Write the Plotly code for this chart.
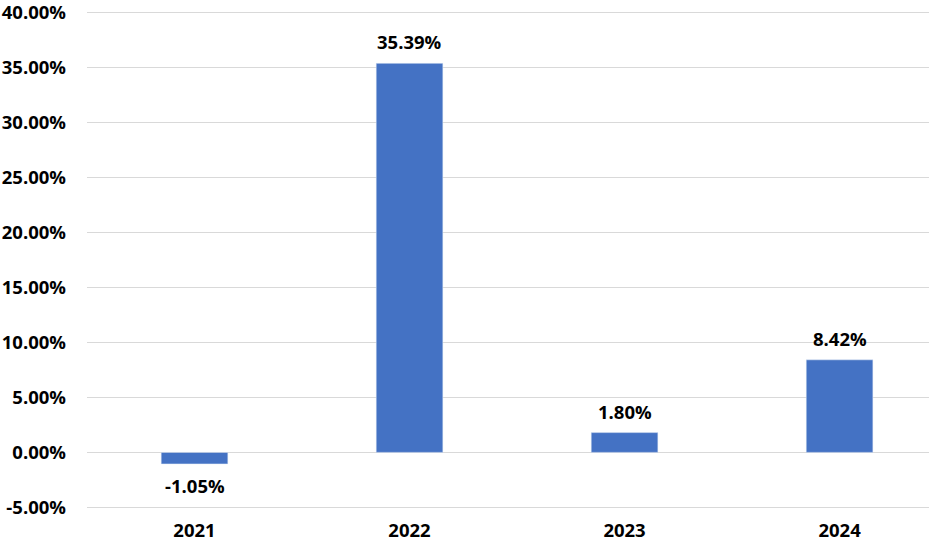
import plotly.graph_objects as go

years = ["2021", "2022", "2023", "2024"]
returns = [-1.05, 35.39, 1.80, 8.42]
labels = ["-1.05%", "35.39%", "1.80%", "8.42%"]
y_ticks = [-5, 0, 5, 10, 15, 20, 25, 30, 35, 40]
y_tick_text = ["-5.00%", "0.00%", "5.00%", "10.00%", "15.00%", "20.00%", "25.00%", "30.00%", "35.00%", "40.00%"]

FONT = "Open Sans"
FS = 18.5

fig = go.Figure()
fig.add_trace(go.Bar(
    x=years, y=returns, marker_color="#4472C4", width=0.31,
    hoverinfo="skip",
))

for i, (v, t) in enumerate(zip(returns, labels)):
    fig.add_annotation(
        x=i, y=v, xref="x", yref="y", text=t, showarrow=False,
        yanchor="bottom" if v >= 0 else "top",
        yshift=7 if v >= 0 else -7,
        font=dict(family=FONT, size=FS, color="#000000", weight="bold"),
    )

fig.update_layout(
    width=929, height=548,
    margin=dict(l=87, r=0, t=11, b=39),
    paper_bgcolor="white", plot_bgcolor="white",
    showlegend=False,
    font=dict(family=FONT, size=FS, color="#000000"),
)
fig.update_xaxes(
    type="category", range=[-0.5, 3.416],
    showgrid=False, showline=False, zeroline=False,
    tickfont=dict(family=FONT, size=FS, color="#000000", weight="bold"),
    ticks="", ticklabelstandoff=8,
)
fig.update_yaxes(
    range=[-5.15, 40.15], tickvals=y_ticks, ticktext=y_tick_text,
    showgrid=True, gridcolor="#D9D9D9", gridwidth=1.3,
    zeroline=True, zerolinecolor="#D9D9D9", zerolinewidth=1.3,
    showline=False, ticks="",
    tickfont=dict(family=FONT, size=FS, color="#000000", weight="bold"),
    ticklabelstandoff=20, ticklabeloverflow="allow",
)

fig.write_html("out.html", config={"displayModeBar": False},
               post_script="document.body.style.margin='0';")
